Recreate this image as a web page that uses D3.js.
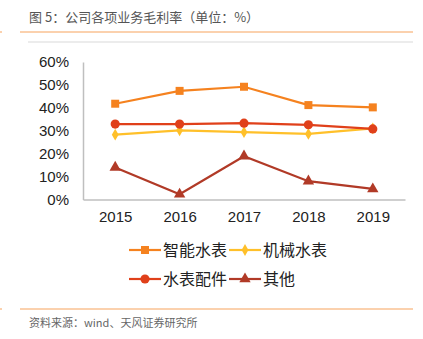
<!DOCTYPE html>
<html>
<head>
<meta charset="utf-8">
<script src="https://cdn.jsdelivr.net/npm/d3@7"></script>
<style>
  body { margin: 0; background: #fff; }
  svg { display: block; font-family: "Liberation Sans", Arial, sans-serif; }
</style>
</head>
<body>
<svg></svg>
<script>
const width = 423;
const height = 339;

const years = ['2015', '2016', '2017', '2018', '2019'];
const smartMeter = [41.8, 47.4, 49.2, 41.2, 40.2];
const mechMeter = [28.3, 30.2, 29.4, 28.6, 31.0];
const parts = [32.9, 32.9, 33.3, 32.6, 30.8];
const others = [14.0, 2.3, 18.9, 8.0, 4.6];
const yTicks = [0, 10, 20, 30, 40, 50, 60];

const series = [
    { name: '智能水表', values: smartMeter, color: '#F5821F', symbol: d3.symbolSquare, size: 64 },
    { name: '机械水表', values: mechMeter, color: '#FFC02A', symbol: d3.symbolDiamond, size: 40 },
    { name: '水表配件', values: parts, color: '#E0401A', symbol: d3.symbolCircle, size: 66 },
    { name: '其他', values: others, color: '#B13A27', symbol: d3.symbolTriangle, size: 56 }
];

const cjk = '"Noto Sans CJK SC", "Noto Sans", sans-serif';

const svg = d3.select('svg')
    .attr('width', width)
    .attr('height', height);

// header and footer rules
svg.append('line').attr('x1', 20).attr('x2', 413).attr('y1', 32).attr('y2', 32)
    .attr('stroke', '#F7A35C').attr('stroke-width', 1);
svg.append('line').attr('x1', 0).attr('x2', 2).attr('y1', 32).attr('y2', 32)
    .attr('stroke', '#F7A35C').attr('stroke-width', 1);
svg.append('line').attr('x1', 28).attr('x2', 413).attr('y1', 42).attr('y2', 42)
    .attr('stroke', '#d9d9d9').attr('stroke-width', 1);
svg.append('line').attr('x1', 20).attr('x2', 413).attr('y1', 309).attr('y2', 309)
    .attr('stroke', '#F7A35C').attr('stroke-width', 1);
svg.append('line').attr('x1', 0).attr('x2', 2).attr('y1', 309).attr('y2', 309)
    .attr('stroke', '#F7A35C').attr('stroke-width', 1);

svg.append('text')
    .attr('x', 29).attr('y', 22)
    .style('font-family', cjk)
    .style('font-size', '13px')
    .attr('fill', '#555')
    .text('图 5：公司各项业务毛利率（单位：%）');

svg.append('text')
    .attr('x', 29).attr('y', 327)
    .style('font-family', cjk)
    .style('font-size', '11px')
    .attr('fill', '#666')
    .text('资料来源：wind、天风证券研究所');

// plot area
const plotLeft = 83, plotRight = 405, plotTop = 62, plotBottom = 199.5;

const x = d3.scalePoint()
    .domain(years)
    .range([plotLeft, plotRight])
    .padding(0.5);

const y = d3.scaleLinear()
    .domain([0, 60])
    .range([plotBottom, plotTop]);

const yAxis = d3.axisLeft(y)
    .tickValues(yTicks)
    .tickSize(0)
    .tickPadding(14)
    .tickFormat((d) => d + '%');

const gy = svg.append('g')
    .attr('transform', 'translate(' + plotLeft + ',0)')
    .call(yAxis);
gy.select('.domain').attr('stroke', '#bfbfbf').attr('stroke-width', 1.5);
gy.selectAll('text').style('font-size', '15px').attr('fill', '#222')
    .style('font-family', '"Liberation Sans", Arial, sans-serif');

const xAxis = d3.axisBottom(x)
    .tickSize(0)
    .tickPadding(12);

const gx = svg.append('g')
    .attr('transform', 'translate(0,' + plotBottom + ')')
    .call(xAxis);
gx.select('.domain').attr('stroke', '#bfbfbf').attr('stroke-width', 1.5);
gx.selectAll('text').style('font-size', '15px').attr('fill', '#222')
    .style('font-family', '"Liberation Sans", Arial, sans-serif');

const line = d3.line()
    .x((d, i) => x(years[i]))
    .y((d) => y(d));

// draw from back to front so the red circles sit above the yellow line
const drawOrder = [series[3], series[1], series[2], series[0]];

drawOrder.forEach((s) => {
    svg.append('path')
        .datum(s.values)
        .attr('fill', 'none')
        .attr('stroke', s.color)
        .attr('stroke-width', 2.2)
        .attr('d', line);

    svg.selectAll(null)
        .data(s.values)
        .enter()
        .append('path')
        .attr('d', d3.symbol().type(s.symbol).size(s.size))
        .attr('fill', s.color)
        .attr('transform', (d, i) => 'translate(' + x(years[i]) + ',' + y(d) + ')');
});

// legend, two rows of two
const legendPos = [
    { lx: 129, ly: 250 },
    { lx: 229, ly: 250 },
    { lx: 129, ly: 279 },
    { lx: 229, ly: 279 }
];

series.forEach((s, i) => {
    const p = legendPos[i];
    const g = svg.append('g').attr('transform', 'translate(' + p.lx + ',' + p.ly + ')');
    g.append('line')
        .attr('x1', 0).attr('x2', 32)
        .attr('stroke', s.color)
        .attr('stroke-width', 2.2);
    g.append('path')
        .attr('d', d3.symbol().type(s.symbol).size(s.size))
        .attr('fill', s.color)
        .attr('transform', 'translate(16,0)');
    g.append('text')
        .attr('x', 34)
        .attr('dy', '0.36em')
        .style('font-family', cjk)
        .style('font-size', '16px')
        .attr('fill', '#222')
        .text(s.name);
});
</script>
</body>
</html>
